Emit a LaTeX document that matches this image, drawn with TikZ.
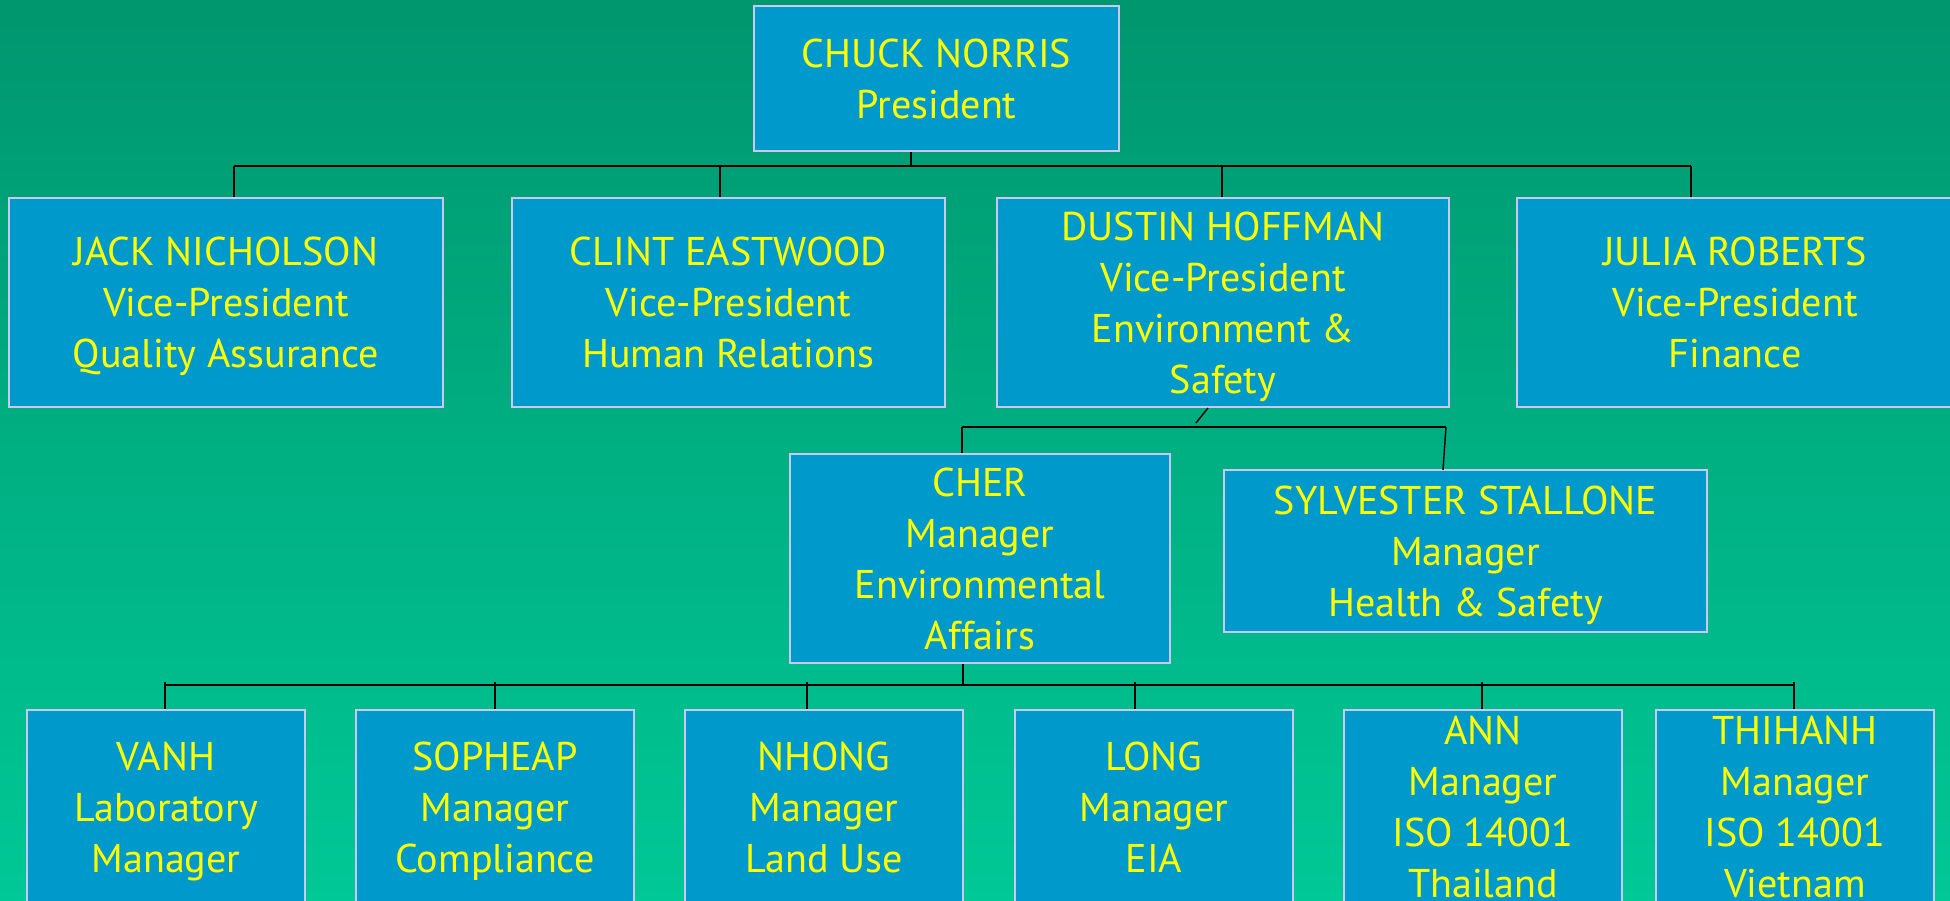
\documentclass[tikz,border=0pt]{standalone}
\usepackage{fontspec}
\setmainfont{PT Sans}
\definecolor{bgtop}{RGB}{0,150,110}
\definecolor{bgbot}{RGB}{0,200,150}
\definecolor{boxblue}{RGB}{0,153,204}
\definecolor{boxedge}{RGB}{200,200,240}
\definecolor{nameyellow}{RGB}{255,255,0}
\tikzset{
  person/.style={draw=boxedge, line width=0.6pt, fill=boxblue, text=nameyellow,
    align=center, inner sep=0pt, text depth=0pt, font=\fontsize{11.4}{14.5}\selectfont},
  bus/.style={line width=0.6pt},
  link/.style={line width=0.4pt}
}
\begin{document}
\begin{tikzpicture}[x=0.01cm, y=-0.01cm]
  % Background
  \useasboundingbox (0,0) rectangle (1950,901);
  \shade[top color=bgtop, bottom color=bgbot] (0,0) rectangle (1950,901);

  % Nodes
  \node[person, minimum width=3.65cm, minimum height=1.45cm] (pres) at (936.5,78.5) {CHUCK NORRIS\\President};

  \node[person, minimum width=4.34cm, minimum height=2.09cm] (jack) at (226,302.5) {JACK NICHOLSON\\Vice-President\\Quality Assurance};
  \node[person, minimum width=4.33cm, minimum height=2.09cm] (clint) at (728.5,302.5) {CLINT EASTWOOD\\Vice-President\\Human Relations};
  \node[person, minimum width=4.52cm, minimum height=2.09cm] (dustin) at (1223,302.5) {DUSTIN HOFFMAN\\Vice-President\\Environment \&\\Safety};
  \node[person, minimum width=4.36cm, minimum height=2.09cm] (julia) at (1735,302.5) {JULIA ROBERTS\\Vice-President\\Finance};

  \node[person, minimum width=3.80cm, minimum height=2.09cm] (cher) at (980,558.5) {CHER\\Manager\\Environmental\\Affairs};
  \node[person, minimum width=4.83cm, minimum height=1.62cm] (sly) at (1465.5,551) {SYLVESTER STALLONE\\Manager\\Health \& Safety};

  \node[person, minimum width=2.78cm, minimum height=1.94cm] (vanh) at (166,807) {VANH\\Laboratory\\Manager};
  \node[person, minimum width=2.78cm, minimum height=1.94cm] (sopheap) at (495,807) {SOPHEAP\\Manager\\Compliance};
  \node[person, minimum width=2.78cm, minimum height=1.94cm] (nhong) at (824,807) {NHONG\\Manager\\Land Use};
  \node[person, minimum width=2.78cm, minimum height=1.94cm] (long) at (1154,807) {LONG\\Manager\\EIA};
  \node[person, minimum width=2.78cm, minimum height=1.94cm] (ann) at (1483,807) {ANN\\Manager\\ISO 14001\\Thailand};
  \node[person, minimum width=2.78cm, minimum height=1.94cm] (thihanh) at (1795,807) {THIHANH\\Manager\\ISO 14001\\Vietnam};

  % Bus junctions
  \coordinate (top) at (911,166);
  \coordinate (vp1) at (234,166);
  \coordinate (vp2) at (720,166);
  \coordinate (vp3) at (1222,166);
  \coordinate (vp4) at (1691,166);

  \coordinate (mid) at (1196,423);
  \coordinate (mg1) at (962,427);
  \coordinate (mg2) at (1446,427);

  \coordinate (low) at (963,685);
  \coordinate (st1) at (165,685);
  \coordinate (st2) at (495,685);
  \coordinate (st3) at (807,685);
  \coordinate (st4) at (1135,685);
  \coordinate (st5) at (1482,685);
  \coordinate (st6) at (1794,685);

  % Lines from president
  \draw[link] (top |- pres.south) -- (top);
  \draw[bus] (vp1) -- (vp4);
  \draw[link] (vp1) -- (vp1 |- jack.north);
  \draw[link] (vp2) -- (vp2 |- clint.north);
  \draw[link] (vp3) -- (vp3 |- dustin.north);
  \draw[link] (vp4) -- (vp4 |- julia.north);

  % Lines from vice-president
  \draw[link] (1208,408) -- (mid); % short stub under Dustin
  \draw[bus] (mg1) -- (mg2);
  \draw[link] (mg1) -- (mg1 |- cher.north);
  \draw[link] (mg2) -- (1443,470);

  % Lines from manager
  \draw[link] (low |- cher.south) -- (low);
  \draw[bus] (st1) -- (st6);
  \foreach \s/\n in {st1/vanh, st2/sopheap, st3/nhong, st4/long, st5/ann, st6/thihanh}
    \draw[link] (\s) ++(0,-3) -- (\s |- \n.north);
\end{tikzpicture}
\end{document}
